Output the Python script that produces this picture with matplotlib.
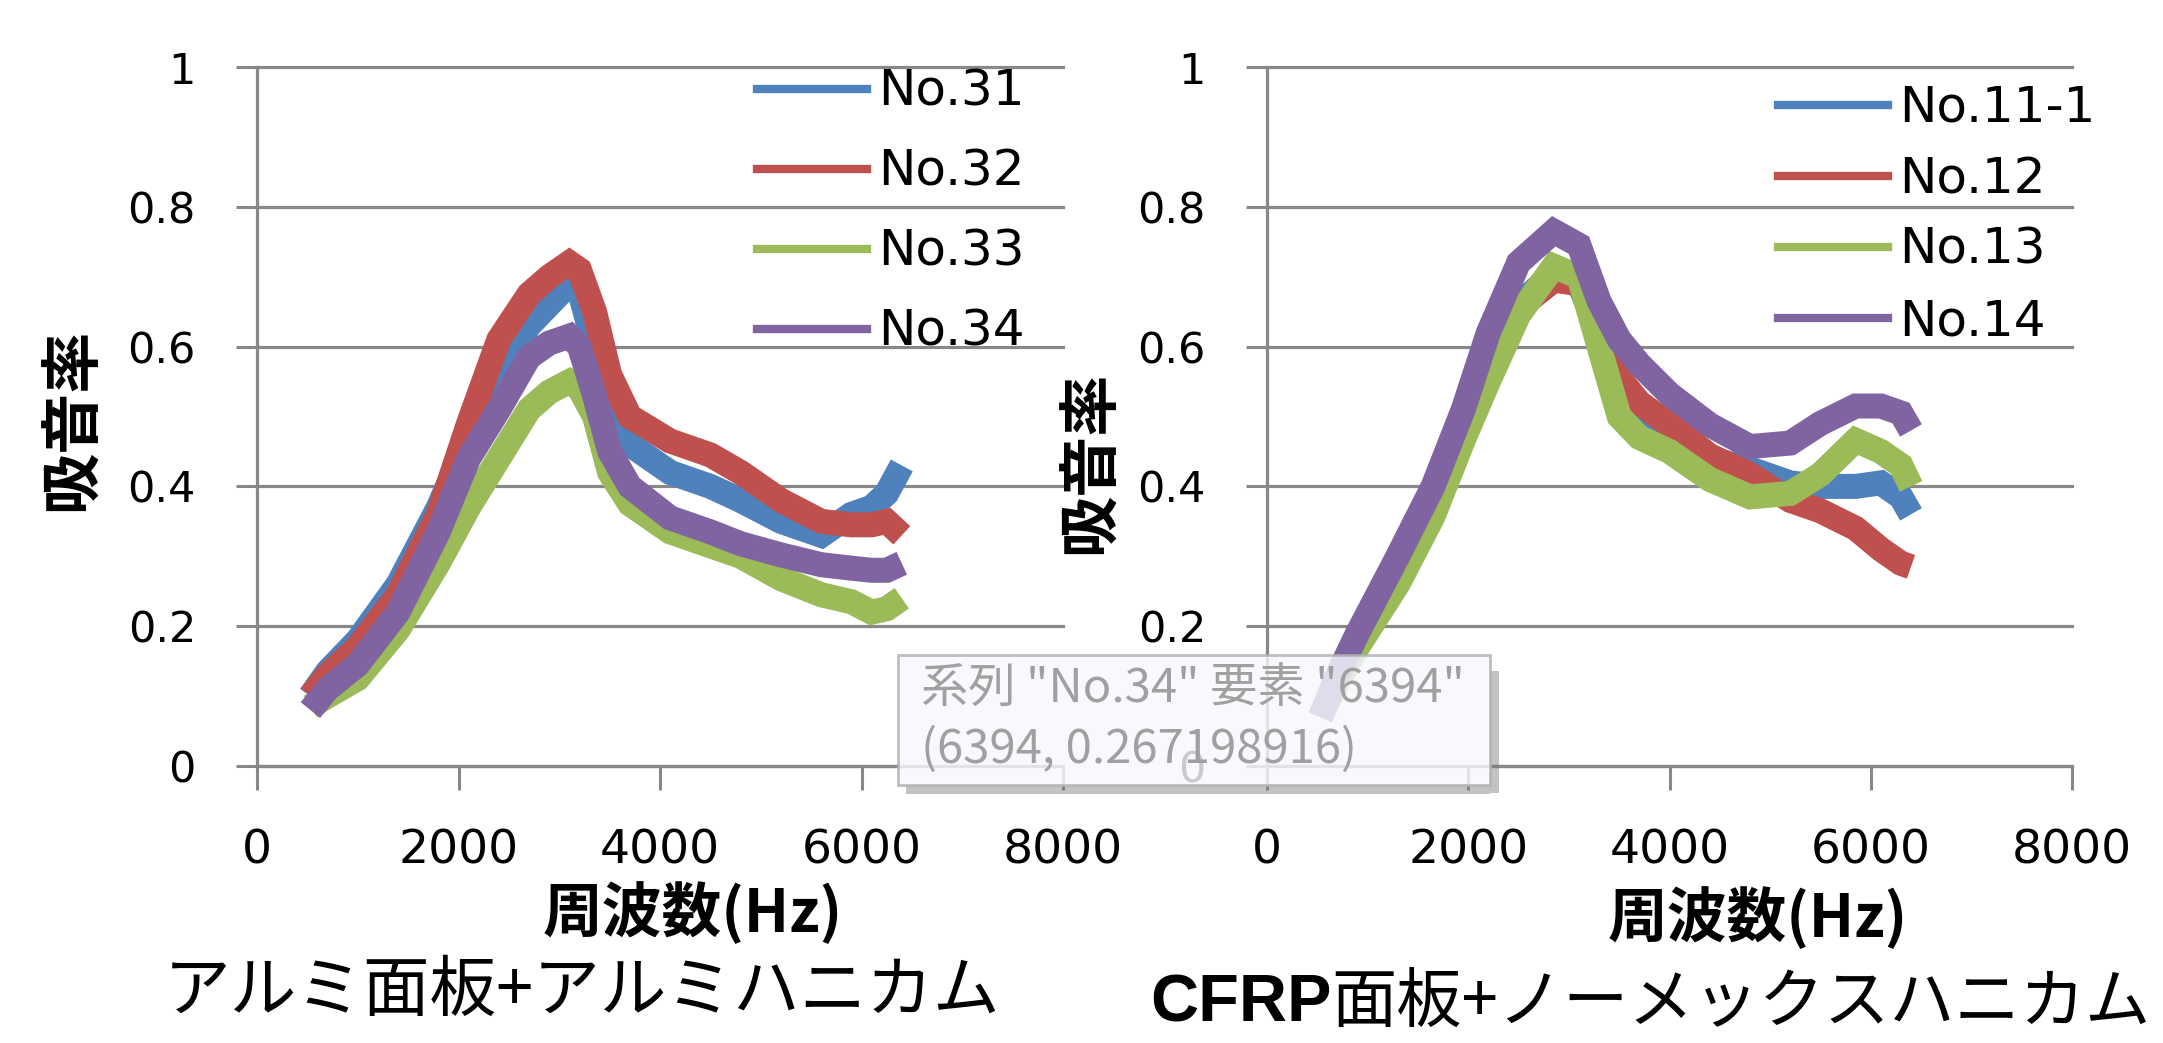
import matplotlib
matplotlib.use("Agg")
import matplotlib.pyplot as plt
from matplotlib.lines import Line2D
from matplotlib.patches import Rectangle
from matplotlib.ticker import FuncFormatter

W, H = 2163, 1043

# ---------------- data ----------------
freq_left = [530, 700, 1000, 1400, 1800, 2100, 2400, 2700, 2900, 3100, 3200, 3350,
             3500, 3700, 4100, 4500, 4800, 5200, 5600, 5900, 6100, 6250, 6400]
no31 = [0.10, 0.135, 0.18, 0.26, 0.37, 0.47, 0.56, 0.63, 0.66, 0.69, 0.68, 0.60,
        0.50, 0.46, 0.42, 0.40, 0.38, 0.35, 0.33, 0.36, 0.37, 0.39, 0.43]
no32 = [0.10, 0.13, 0.17, 0.245, 0.36, 0.49, 0.61, 0.675, 0.70, 0.72, 0.71, 0.65,
        0.56, 0.50, 0.465, 0.445, 0.42, 0.38, 0.35, 0.345, 0.345, 0.35, 0.33]
no33 = [0.085, 0.10, 0.125, 0.195, 0.29, 0.37, 0.44, 0.51, 0.535, 0.55, 0.54, 0.50,
        0.42, 0.375, 0.335, 0.315, 0.30, 0.268, 0.245, 0.235, 0.22, 0.225, 0.24]
no34 = [0.08, 0.11, 0.145, 0.22, 0.335, 0.44, 0.51, 0.585, 0.605, 0.615, 0.60, 0.53,
        0.45, 0.40, 0.355, 0.335, 0.318, 0.302, 0.288, 0.283, 0.28, 0.28, 0.29]

freq_right = [530, 700, 900, 1300, 1650, 1950, 2200, 2500, 2850, 3100, 3300, 3500,
              3700, 4000, 4400, 4800, 5200, 5500, 5850, 6100, 6300, 6400]
no11_1 = [0.07, 0.125, 0.18, 0.28, 0.38, 0.49, 0.58, 0.66, 0.705, 0.69, 0.62, 0.55,
          0.51, 0.48, 0.44, 0.425, 0.405, 0.40, 0.40, 0.405, 0.385, 0.36]
no12 = [0.07, 0.125, 0.18, 0.28, 0.38, 0.49, 0.58, 0.655, 0.695, 0.69, 0.63, 0.555,
        0.52, 0.488, 0.444, 0.417, 0.38, 0.365, 0.34, 0.31, 0.29, 0.285]
no13 = [0.07, 0.12, 0.17, 0.26, 0.357, 0.466, 0.55, 0.645, 0.715, 0.70, 0.60, 0.50,
        0.47, 0.45, 0.41, 0.385, 0.39, 0.417, 0.466, 0.45, 0.43, 0.40]
no14 = [0.07, 0.13, 0.19, 0.30, 0.40, 0.51, 0.62, 0.72, 0.765, 0.745, 0.665, 0.61,
        0.575, 0.532, 0.488, 0.457, 0.462, 0.49, 0.515, 0.515, 0.505, 0.48]

labels_left = ["No.31", "No.32", "No.33", "No.34"]
labels_right = ["No.11-1", "No.12", "No.13", "No.14"]
x_ticks = [0, 2000, 4000, 6000, 8000]
y_ticks = [0, 0.2, 0.4, 0.6, 0.8, 1.0]
y_label = "吸音率"
x_label = "周波数(Hz)"
title_left = "アルミ面板+アルミハニカム"
title_right_bold = "CFRP"
title_right_rest = "面板+ノーメックスハニカム"
tooltip_lines = ['系列 "No.34" 要素 "6394"', '(6394, 0.267198916)']

colors = ["#4F81BD", "#C0504D", "#9BBB59", "#8064A2"]
GRID = "#888888"
CJK = ["Noto Sans CJK JP", "DejaVu Sans"]

plt.rcParams["font.family"] = ["DejaVu Sans", "Noto Sans CJK JP"]

fig = plt.figure(figsize=(W / 100, H / 100), dpi=100)
fig.patch.set_facecolor("white")

axL = fig.add_axes([257 / W, 1 - 766 / H, 806 / W, 699 / H])
axR = fig.add_axes([1267 / W, 1 - 766 / H, 805 / W, 699 / H])


def fmt(v, _):
    if abs(v) < 1e-9:
        return "0"
    if abs(v - 1) < 1e-9:
        return "1"
    return f"{v:.1f}"


def style(ax):
    ax.set_xlim(0, 8000)
    ax.set_ylim(0, 1)
    ax.set_xticks(x_ticks)
    ax.set_yticks(y_ticks)
    ax.yaxis.set_major_formatter(FuncFormatter(fmt))
    ax.grid(axis="y", color=GRID, lw=2.3)
    for gl in ax.get_ygridlines():
        gl.set_clip_on(False)
    ax.set_axisbelow(True)
    for s in ["top", "right"]:
        ax.spines[s].set_visible(False)
    for s in ["left", "bottom"]:
        ax.spines[s].set_color(GRID)
        ax.spines[s].set_linewidth(2.3)
    ax.tick_params(axis="y", direction="out", length=15, width=2.2, color=GRID,
                   labelsize=31, pad=29)
    ax.tick_params(axis="x", direction="out", length=17, width=2.2, color=GRID,
                   labelsize=34, pad=28)


def draw(ax, x, series, labels, leg_anchor, spacing):
    for ys, c in zip(series, colors):
        ax.plot(x, ys, color=c, lw=18, solid_joinstyle="miter", solid_capstyle="butt")
    handles = [Line2D([0], [0], color=c, lw=6) for c in colors]
    ax.legend(handles, labels, loc="upper left", bbox_to_anchor=leg_anchor,
              bbox_transform=fig.transFigure, frameon=False, fontsize=36,
              handlelength=2.2, handletextpad=0.22, labelspacing=spacing,
              borderpad=0, borderaxespad=0)


style(axL)
style(axR)
draw(axL, freq_left, [no31, no32, no33, no34], labels_left, (757 / W, 1 - 68 / H), 0.64)
draw(axR, freq_right, [no11_1, no12, no13, no14], labels_right, (1778 / W, 1 - 84 / H), 0.46)

# axis labels
fig.text(73 / W, 1 - 419 / H, y_label, rotation=90, ha="center", va="center",
         fontsize=44, fontweight="bold", family=CJK)
fig.text(1091 / W, 1 - 462 / H, y_label, rotation=90, ha="center", va="center",
         fontsize=44, fontweight="bold", family=CJK)
fig.text(693 / W, 1 - 914 / H, x_label, ha="center", va="center",
         fontsize=43, fontweight="bold", family=CJK)
fig.text(1758 / W, 1 - 919 / H, x_label, ha="center", va="center",
         fontsize=43, fontweight="bold", family=CJK)

# titles
fig.text(582 / W, 1 - 992 / H, title_left, ha="center", va="center",
         fontsize=48, family=CJK)
t1 = fig.text(1150 / W, 1 - 1004 / H, title_right_bold, ha="left", va="center",
              fontsize=48, fontweight="bold", family=["Liberation Sans", "DejaVu Sans"])
fig.canvas.draw()
bb = t1.get_window_extent(fig.canvas.get_renderer())
fig.text(bb.x1 / W, 1 - 1004 / H, title_right_rest, ha="left", va="center",
         fontsize=47, family=CJK)

# tooltip (semi-transparent popup with a soft shadow on its right and bottom)
fig.patches.append(Rectangle((1490 / W, 1 - 793 / H), 9 / W, 122 / H,
                             transform=fig.transFigure, facecolor="#7a7a7a",
                             alpha=0.45, edgecolor="none", zorder=5))
fig.patches.append(Rectangle((906 / W, 1 - 794 / H), 584 / W, 9 / H,
                             transform=fig.transFigure, facecolor="#7a7a7a",
                             alpha=0.45, edgecolor="none", zorder=5))
fig.patches.append(Rectangle((898 / W, 1 - 785 / H), 592 / W, 130 / H,
                             transform=fig.transFigure, facecolor="#f7f8fc",
                             alpha=0.82, edgecolor="#b0b0b0", lw=2, zorder=6))
fig.text(921 / W, 1 - 690 / H, tooltip_lines[0], ha="left", va="center",
         fontsize=34, color="#a0a0a0", family=CJK, zorder=7)
fig.text(921 / W, 1 - 750 / H, tooltip_lines[1], ha="left", va="center",
         fontsize=34, color="#a0a0a0", family=CJK, zorder=7)

fig.savefig("out.png", dpi=100, facecolor="white")
